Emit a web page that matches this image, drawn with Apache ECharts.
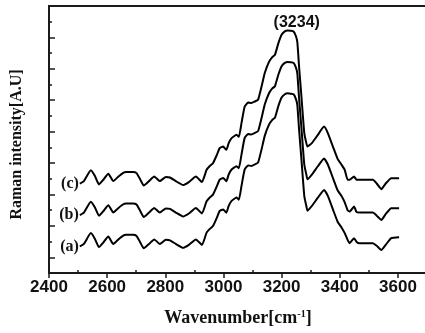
<!DOCTYPE html>
<html>
<head>
<meta charset="utf-8">
<script src="https://cdn.jsdelivr.net/npm/echarts@6/dist/echarts.min.js"></script>
<style>
html, body { margin: 0; padding: 0; background: #fff; }
#chart { width: 425px; height: 333px; }
</style>
</head>
<body>
<div id="chart"></div>
<script>
// wavenumber (cm-1) and the three spectra
var wavenumber = [2506,2520,2544,2558,2572,2586,2604,2621,2637,2654,2665,2689,2701,2713,2726,2744,2762,2781,2802,2816,
  2836,2861,2881,2905,2926,2942,2953,2964,2977,2987,2999,3010,3018,3028,3045,3053,3062,3073,3085,3096,
  3108,3119,3131,3142,3157,3168,3177,3189,3200,3211,3221,3231,3241,3249,3254,3260,3269,3278,3285,3289,
  3304,3324,3346,3359,3377,3393,3407,3417,3427,3434,3449,3458,3468,3489,3514,3527,3543,3558,3577,3604];
var specA = [1.69,1.85,2.54,2.17,1.64,1.92,2.32,1.85,2.11,2.36,2.43,2.43,2.36,1.98,1.57,1.85,2.14,1.85,2.11,2.08,
  1.85,1.60,1.79,2.14,1.79,2.57,2.81,2.99,3.51,3.95,4.05,3.84,4.27,4.59,4.80,4.67,5.54,6.60,6.85,6.82,
  6.92,7.03,7.87,8.73,9.46,9.75,9.89,10.64,11.17,11.38,11.44,11.42,11.38,11.09,10.71,9.15,7.03,4.90,4.27,3.97,
  4.27,4.78,5.29,4.91,4.02,3.25,2.87,2.54,2.11,1.90,2.22,1.98,1.90,1.90,1.90,1.73,1.47,1.79,2.22,2.28];
var specB = [3.69,3.85,4.54,4.17,3.64,3.92,4.32,3.85,4.11,4.36,4.43,4.43,4.36,3.98,3.57,3.85,4.14,3.85,4.11,4.08,
  3.85,3.60,3.79,4.14,3.79,4.57,4.81,4.99,5.51,5.95,6.05,5.84,6.27,6.59,6.80,6.67,7.54,8.60,8.85,8.82,
  8.92,9.03,9.87,10.73,11.46,11.75,11.89,12.64,13.17,13.38,13.44,13.42,13.38,13.09,12.71,11.15,9.03,6.90,6.27,5.97,
  6.27,6.78,7.29,6.91,6.02,5.25,4.87,4.50,4.00,3.91,4.23,3.88,3.85,3.85,3.85,3.65,3.38,3.75,4.13,4.13];
var specC = [5.69,5.85,6.54,6.17,5.64,5.92,6.32,5.85,6.11,6.36,6.43,6.43,6.36,5.98,5.57,5.85,6.14,5.85,6.11,6.08,
  5.85,5.60,5.79,6.14,5.79,6.57,6.81,6.99,7.51,7.95,8.05,7.84,8.27,8.59,8.80,8.67,9.54,10.60,10.85,10.82,
  10.92,11.03,11.87,12.73,13.46,13.75,13.89,14.64,15.17,15.38,15.44,15.42,15.38,15.09,14.71,13.15,11.03,8.90,8.27,8.05,
  8.27,8.78,9.32,8.91,8.02,7.25,6.87,6.57,5.93,5.93,6.14,5.93,5.93,5.93,5.93,5.70,5.34,5.70,6.04,6.04];

var xMajorTicks = [2400, 2600, 2800, 3000, 3200, 3400, 3600];
var xMinorTicks = [2500, 2700, 2900, 3100, 3300, 3500];
var yMajorTicks = [1, 3, 5, 7, 9, 11, 13, 15];
var yMinorTicks = [2, 4, 6, 8, 10, 12, 14, 16];
var curveNames = ['(a)', '(b)', '(c)'];
var peakText = '(3234)';
var peakAt = [3252, 15.44];

var axisColor = '#1a1a1a';
var serif = 'Liberation Serif';
var sans = 'Liberation Sans';

function pairs(ys) {
  return wavenumber.map(function (x, i) { return [x, ys[i]]; });
}

function spectrum(name, ys, extraMarks) {
  var marks = [{
    coord: [wavenumber[0], ys[0]],
    label: { show: true, position: 'left', distance: 1, formatter: name,
      fontFamily: serif, fontWeight: 'bold', fontSize: 16, color: '#111' }
  }].concat(extraMarks || []);
  return {
    name: name,
    type: 'line',
    data: pairs(ys),
    showSymbol: false,
    smooth: 0.15,
    lineStyle: { color: '#000', width: 2 },
    markPoint: { symbol: 'circle', symbolSize: 0, silent: true, data: marks },
    animation: false
  };
}

var chart = echarts.init(document.getElementById('chart'), null, { renderer: 'canvas' });

var option = {
  animation: false,
  backgroundColor: '#fff',
  grid: {
    left: 49, right: -2, top: 6, bottom: 60,
    outerBoundsMode: 'none',
    containLabel: false,
    show: true, borderColor: axisColor, borderWidth: 2
  },
  xAxis: [
    {
      type: 'value', min: 2400, max: 3700,
      name: 'Wavenumber[cm{s|-1}]',
      nameLocation: 'middle', nameGap: 36,
      nameTextStyle: {
        fontFamily: serif, fontWeight: 'bold', fontSize: 18, color: '#111',
        rich: { s: { fontFamily: serif, fontWeight: 'bold', fontSize: 10, verticalAlign: 'top', color: '#111' } }
      },
      axisLine: { lineStyle: { color: axisColor, width: 2 } },
      axisTick: { customValues: xMajorTicks, inside: false, length: 5, lineStyle: { color: axisColor, width: 1.5 } },
      axisLabel: {
        customValues: xMajorTicks, margin: 6,
        formatter: function (v) { return String(v); },
        fontFamily: sans, fontWeight: 'bold', fontSize: 17, color: '#111'
      },
      splitLine: { show: false }
    },
    {
      type: 'value', min: 2400, max: 3700, position: 'bottom',
      axisLine: { show: false },
      axisTick: { customValues: xMinorTicks, inside: true, length: 3, lineStyle: { color: axisColor, width: 1.5 } },
      axisLabel: { show: false },
      splitLine: { show: false }
    }
  ],
  yAxis: [
    {
      type: 'value', min: 0, max: 17,
      name: 'Raman intensity[A.U]',
      nameLocation: 'middle', nameGap: 24,
      nameTextStyle: { fontFamily: serif, fontWeight: 'bold', fontSize: 16, color: '#111', padding: [0, 10, 0, 0] },
      axisLine: { show: true, lineStyle: { color: axisColor, width: 2 } },
      axisTick: { customValues: yMajorTicks, inside: true, length: 6, lineStyle: { color: axisColor, width: 1.5 } },
      axisLabel: { show: false },
      splitLine: { show: false }
    },
    {
      type: 'value', min: 0, max: 17, position: 'left',
      axisLine: { show: false },
      axisTick: { customValues: yMinorTicks, inside: true, length: 3, lineStyle: { color: axisColor, width: 1.5 } },
      axisLabel: { show: false },
      splitLine: { show: false }
    }
  ],
  series: [
    spectrum(curveNames[0], specA),
    spectrum(curveNames[1], specB),
    spectrum(curveNames[2], specC, [{
      coord: peakAt,
      label: { show: true, position: 'top', distance: 0, formatter: peakText,
        fontFamily: sans, fontWeight: 'bold', fontSize: 16, color: '#111' }
    }])
  ]
};

chart.setOption(option);
</script>
</body>
</html>
